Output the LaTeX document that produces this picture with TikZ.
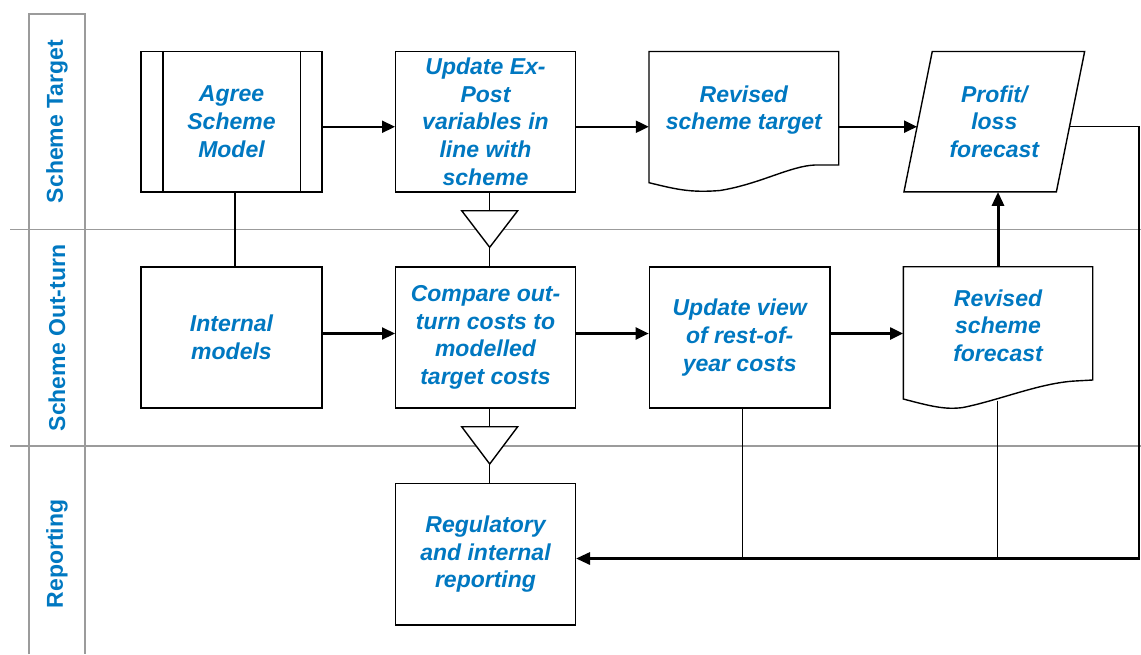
\documentclass[tikz,border=0pt]{standalone}
\usepackage{fontspec}
\setmainfont{Liberation Sans}
\usetikzlibrary{arrows.meta,calc}
\definecolor{txtblue}{RGB}{0,120,193}
\definecolor{lanegray}{RGB}{155,155,155}
\begin{document}
\begin{tikzpicture}[x=1pt,y=-1pt,
  every node/.style={inner sep=0pt},
  lbl/.style={font=\fontsize{23}{27.7}\selectfont\bfseries\itshape, text=txtblue, align=center},
  proc/.style={lbl, draw=black, fill=white, line width=1.4pt},
  shapeline/.style={draw=black, line width=1.4pt},
  flow/.style={line width=2.2pt, -{Triangle[length=13pt,width=12pt]}},
  heavyflow/.style={line width=3pt, -{Triangle[length=14pt,width=12pt]}},
  link/.style={line width=1.4pt},
  laneline/.style={draw=lanegray, line width=1.8pt},
  lanelabel/.style={rotate=90, font=\fontsize{23}{27}\selectfont\bfseries, text=txtblue}
]
\useasboundingbox (0,0) rectangle (1141,654);

% swimlanes
\draw[laneline] (29,654) -- (29,14) -- (85,14) -- (85,654);
\draw[laneline] (10,229.5) -- (1141,229.5);
\draw[laneline] (10,446) -- (1141,446);
\node[lanelabel] (laneA) at (57,121.5) {Scheme Target};
\node[lanelabel] (laneB) at (57,338) {Scheme Out-turn};
\node[lanelabel] (laneC) at (57,554) {Reporting};

% row 1
\node[proc, minimum width=181pt, minimum height=140.5pt] (asm) at (231.5,121.75) {Agree\\Scheme\\Model};
\draw[link] ([xshift=22.7pt]asm.north west) -- ([xshift=22.7pt]asm.south west);
\draw[link] ([xshift=-22pt]asm.north east) -- ([xshift=-22pt]asm.south east);

\node[proc, minimum width=179.6pt, minimum height=140.5pt] (uep) at (485.5,121.75) {Update Ex-\\Post\\variables in\\line with\\scheme};

\node[minimum width=189.7pt, minimum height=140pt] (rst) at (743.85,121.5) {};
\draw[shapeline] (649,51.5) -- (838.7,51.5) -- (838.7,165) -- (815,165)
  .. controls (790,166) and (760,184) .. (720,190.5)
  .. controls (690,193) and (675,189) .. (649,182.7) -- cycle;
\node[lbl] (rstlabel) at (743.85,110) {Revised\\scheme target};

\node[lbl, minimum width=180.3pt, minimum height=140pt] (plf) at (994.3,121.7) {Profit/\\loss\\forecast};
\draw[shapeline] (plf.south west) -- ([xshift=28.3pt]plf.north west) -- (plf.north east) -- ([xshift=-28.3pt]plf.south east) -- cycle;

% row 2
\node[proc, minimum width=181pt, minimum height=141pt] (ims) at (231.5,337.5) {Internal\\models};
\node[proc, minimum width=179.6pt, minimum height=141pt] (cmp) at (485.5,337.5) {Compare out-\\turn costs to\\modelled\\target costs};
\node[proc, minimum width=180.7pt, minimum height=141pt] (uvw) at (739.7,337.5) {Update view\\of rest-of-\\year costs};

\node[minimum width=189.4pt, minimum height=141.6pt] (rsf) at (998,337.5) {};
\draw[shapeline] (903.3,266.7) -- (1092.7,266.7) -- (1092.7,380) -- (1075,381)
  .. controls (1040,383) and (1000,400) .. (963,407.5)
  .. controls (945,410) and (930,406) .. (903.3,399) -- cycle;
\node[lbl] (rsflabel) at (998,325.7) {Revised\\scheme\\forecast};

% row 3
\node[proc, minimum width=179.6pt, minimum height=141.5pt] (reg) at (485.5,554.25) {Regulatory\\and internal\\reporting};

% merge triangles
\coordinate (m1t) at (489.7,210.7);
\coordinate (m1a) at (489.7,247.3);
\coordinate (m2t) at (489.7,426.7);
\coordinate (m2a) at (489.7,464);
\draw[shapeline, fill=white] ([xshift=-28pt]m1t) -- ([xshift=28pt]m1t) -- (m1a) -- cycle;
\draw[shapeline, fill=white] ([xshift=-28pt]m2t) -- ([xshift=28pt]m2t) -- (m2a) -- cycle;

% plain connectors
\draw[link] ([xshift=3.5pt]asm.south) -- ([xshift=3.5pt]ims.north);
\draw[link] ([xshift=4.2pt]uep.south) -- (m1t);
\draw[link] (m1a) -- ([xshift=4.2pt]cmp.north);
\draw[link] ([xshift=4.2pt]cmp.south) -- (m2t);
\draw[link] (m2a) -- ([xshift=4.2pt]reg.north);

% flow arrows
\draw[flow] ([yshift=-5pt]asm.east) -- ([yshift=-5pt]uep.west);
\draw[flow] ([yshift=-5pt]uep.east) -- ([yshift=-5pt]uep.east -| rst.west);
\draw[flow] ([yshift=-5.2pt]rst.east) -- ($(plf.west)+(13.1,5)$);
\draw[flow] ([yshift=4pt]ims.east) -- ([yshift=4pt]cmp.west);
\draw[flow] ([yshift=4pt]cmp.east) -- ([yshift=4pt]uvw.west);
\draw[flow] ([yshift=4pt]uvw.east) -- ([yshift=4pt]uvw.east -| rsf.west);
\draw[heavyflow] (rsf.north) -- (rsf.north |- plf.south);

% feedback to reporting
\coordinate (rc1) at (1139,126.7);
\coordinate (rc2) at (1139,558.5);
\coordinate (rsfb) at (997.7,400.7);
\draw[link] ($(plf.east)+(-15.2,5)$) -- (rc1) -- (rc2);
\draw[link] ([xshift=3pt]uvw.south) -- ([xshift=3pt]uvw.south |- rc2);
\draw[link] (rsfb) -- (rsfb |- rc2);
\draw[heavyflow] ([xshift=0.7pt]rc2) -- (rc2 -| reg.east);
\end{tikzpicture}
\end{document}
